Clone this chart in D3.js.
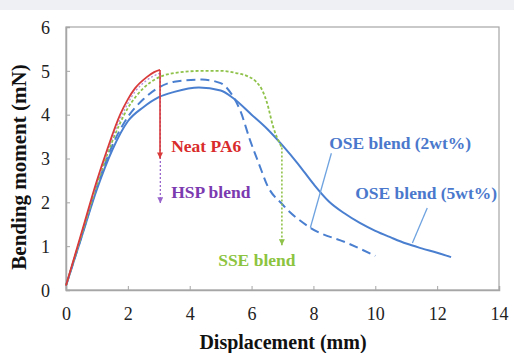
<!DOCTYPE html>
<html>
<head>
<meta charset="utf-8">
<script src="https://cdn.jsdelivr.net/npm/d3@7"></script>
<style>
  body { margin: 0; background: #fff; }
  svg { display: block; }
  text { font-family: "Liberation Serif", "Times New Roman", serif; }
</style>
</head>
<body>
<div id="chart"></div>
<script>
// curves: [displacement (mm), bending moment (mN)]
const neatPA6 = [[0, 0.1], [0.5, 1.3], [1.0, 2.5], [1.33, 3.2], [1.75, 4.0], [2.0, 4.35], [2.23, 4.6], [2.6, 4.85], [2.85, 4.97], [3.04, 5.02]];
const hspBlend = [[0, 0.1], [0.5, 1.28], [1.0, 2.45], [1.75, 3.9], [2.23, 4.52], [2.6, 4.78], [3.05, 4.95]];
const sseBlend = [[0, 0.1], [0.5, 1.25], [1.0, 2.4], [1.5, 3.4], [2.0, 4.15], [2.5, 4.6], [3.0, 4.85], [3.5, 4.95], [4.43, 5.0], [5.0, 5.0], [5.5, 4.95], [5.86, 4.88], [6.15, 4.75], [6.35, 4.55], [6.5, 4.27], [6.7, 3.72], [6.9, 3.36], [6.98, 3.25]];
const ose2wt = [[0, 0.1], [0.5, 1.22], [1.0, 2.35], [1.5, 3.3], [2.0, 3.95], [2.5, 4.35], [3.0, 4.62], [3.5, 4.75], [4.4, 4.8], [5.0, 4.72], [5.37, 4.45], [5.63, 4.1], [5.95, 3.42], [6.28, 2.8], [6.5, 2.4], [7.0, 1.95], [7.9, 1.42], [9.1, 1.07], [10.0, 0.78]];
const ose5wt = [[0, 0.1], [0.5, 1.2], [1.0, 2.3], [1.5, 3.2], [2.0, 3.85], [2.5, 4.17], [3.0, 4.4], [3.5, 4.52], [4.3, 4.62], [5.0, 4.55], [5.4, 4.38], [6.0, 4.0], [6.5, 3.68], [7.0, 3.3], [7.5, 2.88], [8.0, 2.42], [8.5, 2.02], [9.0, 1.75], [9.5, 1.53], [10.0, 1.35], [10.5, 1.2], [11.0, 1.06], [11.5, 0.95], [12.0, 0.85], [12.45, 0.75]];

// fracture drops: [x, from, to]
const drops = [
  {x: 3.05, from: 4.95, to: 1.98, color: '#9966cc', dash: '2,2', width: 1.3},
  {x: 3.04, from: 5.02, to: 3.0, color: '#d93a3a', dash: null, width: 1.6},
  {x: 6.98, from: 3.25, to: 1.02, color: '#8fc24a', dash: '2,2', width: 1.6}
];

const xTicks = [0, 2, 4, 6, 8, 10, 12, 14];
const yTicks = [0, 1, 2, 3, 4, 5, 6];

const labels = [
  {text: 'Neat PA6', x: 3.4, y: 3.15, color: '#d92b2b'},
  {text: 'HSP blend', x: 3.4, y: 2.1, color: '#7b3ab0'},
  {text: 'SSE blend', x: 4.92, y: 0.55, color: '#8cc43f'},
  {text: 'OSE blend (2wt%)', x: 8.51, y: 3.22, color: '#4a78cc'},
  {text: 'OSE blend (5wt%)', x: 9.35, y: 2.08, color: '#4a78cc'}
];
const leaders = [
  [[8.58, 3.12], [7.9, 1.42]],
  [[11.68, 1.87], [11.2, 1.07]]
];

const W = 514, H = 353;
const margin = {top: 27, right: 15, bottom: 63, left: 66};
const width = W - margin.left - margin.right;
const height = H - margin.top - margin.bottom;

const svg = d3.select('#chart').append('svg')
  .attr('width', W)
  .attr('height', H);

svg.append('rect').attr('width', W).attr('height', 10).attr('fill', '#eef0f3');

const defs = svg.append('defs');
drops.forEach((d, i) => {
  defs.append('marker')
    .attr('id', 'arrow' + i)
    .attr('viewBox', '0 0 10 10')
    .attr('refX', 10).attr('refY', 5)
    .attr('markerWidth', 7).attr('markerHeight', 6)
    .attr('markerUnits', 'userSpaceOnUse')
    .attr('orient', 'auto')
    .append('path')
    .attr('d', 'M0,0 L10,5 L0,10 Z')
    .attr('fill', d.color);
});

const g = svg.append('g')
  .attr('transform', `translate(${margin.left},${margin.top})`);

const x = d3.scaleLinear().domain([0, 14]).range([0, width]);
const y = d3.scaleLinear().domain([0, 6]).range([height, 0]);

// frame
g.append('rect')
  .attr('width', width).attr('height', height)
  .attr('fill', 'none').attr('stroke', '#a6a6a6').attr('stroke-width', 1.2);

const xAxis = g.append('g')
  .attr('transform', `translate(0,${height})`)
  .call(d3.axisBottom(x).tickValues(xTicks).tickFormat(d3.format('d')).tickSize(-4).tickPadding(17));
const yAxis = g.append('g')
  .call(d3.axisLeft(y).tickValues(yTicks).tickFormat(d3.format('d')).tickSize(-4).tickPadding(16));

[xAxis, yAxis].forEach(ax => {
  ax.select('.domain').attr('stroke', '#a6a6a6').attr('stroke-width', 1.5);
  ax.selectAll('.tick line').attr('stroke', '#a6a6a6');
  ax.selectAll('.tick text')
    .attr('font-family', 'Liberation Serif, serif')
    .attr('font-size', 18).attr('fill', '#222');
});
yAxis.selectAll('.tick text').attr('dy', '0.35em');

const line = d3.line()
  .x(d => x(d[0]))
  .y(d => y(d[1]))
  .curve(d3.curveMonotoneX);

const series = [
  {data: ose5wt, color: '#4a7fd0', dash: null, width: 2},
  {data: ose2wt, color: '#4a7fd0', dash: '9,5', width: 2},
  {data: sseBlend, color: '#8fc24a', dash: '3,2', width: 1.8},
  {data: hspBlend, color: '#b28fdc', dash: '2,2', width: 1.3},
  {data: neatPA6, color: '#d93a3a', dash: null, width: 1.8}
];

g.selectAll('.curve')
  .data(series)
  .enter()
  .append('path')
  .attr('class', 'curve')
  .attr('fill', 'none')
  .attr('stroke', d => d.color)
  .attr('stroke-width', d => d.width)
  .attr('stroke-dasharray', d => d.dash)
  .attr('d', d => line(d.data));

g.selectAll('.drop')
  .data(drops)
  .enter()
  .append('line')
  .attr('class', 'drop')
  .attr('x1', d => x(d.x)).attr('x2', d => x(d.x))
  .attr('y1', d => y(d.from)).attr('y2', d => y(d.to))
  .attr('stroke', d => d.color)
  .attr('stroke-width', d => d.width)
  .attr('stroke-dasharray', d => d.dash)
  .attr('marker-end', (d, i) => `url(#arrow${i})`);

g.selectAll('.leader')
  .data(leaders)
  .enter()
  .append('line')
  .attr('class', 'leader')
  .attr('x1', d => x(d[0][0])).attr('y1', d => y(d[0][1]))
  .attr('x2', d => x(d[1][0])).attr('y2', d => y(d[1][1]))
  .attr('stroke', '#6fa3e0').attr('stroke-width', 1.3);

g.selectAll('.label')
  .data(labels)
  .enter()
  .append('text')
  .attr('class', 'label')
  .attr('x', d => x(d.x))
  .attr('y', d => y(d.y))
  .attr('fill', d => d.color)
  .attr('font-size', 17.5)
  .attr('font-weight', 'bold')
  .text(d => d.text);

// axis titles
svg.append('text')
  .attr('x', 283).attr('y', 349)
  .attr('text-anchor', 'middle')
  .attr('font-size', 20).attr('font-weight', 'bold').attr('fill', '#111')
  .text('Displacement (mm)');

svg.append('text')
  .attr('transform', 'translate(26,167) rotate(-90)')
  .attr('text-anchor', 'middle')
  .attr('font-size', 21).attr('font-weight', 'bold').attr('fill', '#111')
  .text('Bending moment (mN)');
</script>
</body>
</html>
